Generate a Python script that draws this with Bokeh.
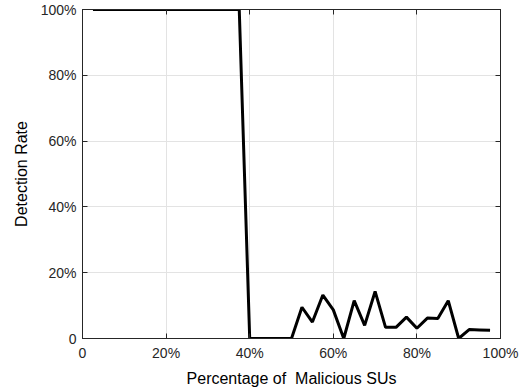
from bokeh.plotting import figure
from bokeh.models import FixedTicker, LinearAxis, Range1d
from bokeh.embed import file_html
from bokeh.resources import INLINE

malicious_pct = [2.5, 5, 7.5, 10, 12.5, 15, 17.5, 20, 22.5, 25, 27.5, 30, 32.5, 35, 37.5,
                 40, 42.5, 45, 47.5, 50, 52.5, 55, 57.5, 60, 62.5, 65, 67.5, 70, 72.5,
                 75, 77.5, 80, 82.5, 85, 87.5, 90, 92.5, 95, 97.5]
detection_rate = [100] * 15 + [0, 0, 0, 0, 0, 9.5, 5, 13.2, 8.7, 0, 11.5, 4, 14.3, 3.4,
                               3.4, 6.5, 3.1, 6.2, 6.1, 11.5, 0, 2.7, 2.6, 2.5]
tick_values = [0, 20, 40, 60, 80, 100]
tick_labels = {0: "0", 20: "20%", 40: "40%", 60: "60%", 80: "80%", 100: "100%"}

FONT = "Liberation Sans"
AX = "#262626"

p = figure(width=532, height=392, output_backend="svg", toolbar_location=None,
           x_range=Range1d(0, 100), y_range=Range1d(0, 100),
           min_border_left=82, min_border_right=32, min_border_top=9, min_border_bottom=54)

p.line(malicious_pct, detection_rate, line_color="black", line_width=3)

p.outline_line_color = AX
p.outline_line_width = 1

for ax in (p.xaxis[0], p.yaxis[0]):
    ax.ticker = FixedTicker(ticks=tick_values)
    ax.major_label_overrides = tick_labels
    ax.major_tick_in = 5
    ax.major_tick_out = 0
    ax.minor_tick_line_color = None
    ax.axis_line_color = AX
    ax.major_tick_line_color = AX
    ax.major_label_text_font = FONT
    ax.major_label_text_font_size = "14px"
    ax.major_label_text_color = AX
    ax.axis_label_text_font = FONT
    ax.axis_label_text_font_size = "16px"
    ax.axis_label_text_font_style = "normal"
    ax.axis_label_text_color = "black"

p.xaxis.axis_label = "Percentage of\u00a0 Malicious SUs"
p.yaxis.axis_label = "Detection Rate"
p.xaxis.major_label_standoff = 6
p.yaxis.major_label_standoff = 6
p.xaxis.axis_label_standoff = 6
p.yaxis.axis_label_standoff = 8

for loc in ("above", "right"):
    a = LinearAxis(ticker=FixedTicker(ticks=tick_values), major_label_text_font_size="0px",
                   major_label_text_color=None,
                   major_tick_in=5, major_tick_out=0, minor_tick_line_color=None,
                   axis_line_color=AX, major_tick_line_color=AX, major_label_standoff=0)
    p.add_layout(a, loc)

for g in (p.xgrid[0], p.ygrid[0]):
    g.ticker = FixedTicker(ticks=tick_values)
    g.grid_line_color = "#e3e3e3"
    g.grid_line_width = 1

open("out.html", "w").write(file_html(p, INLINE))
